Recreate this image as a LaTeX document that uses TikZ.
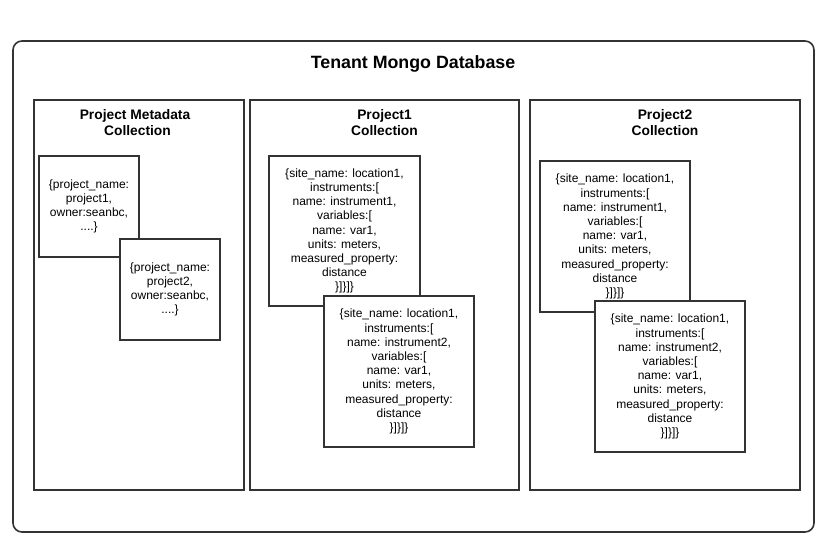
\documentclass[tikz,border=0pt]{standalone}
\usepackage{fontspec}
\setmainfont{Liberation Sans}
\begin{document}
\begin{tikzpicture}[x=1bp,y=-1bp,
  line/.style={draw=black!80,line width=1.6bp},
  outerbox/.style={line,rounded corners=9bp},
  coll/.style={line,fill=white},
  doc/.style={line,fill=white,inner sep=0pt,align=center,
    font=\fontsize{12bp}{14.2bp}\selectfont},
  ttl/.style={font=\bfseries\fontsize{13.8bp}{16bp}\selectfont,align=center,inner sep=0pt},
]
\useasboundingbox (0,0) rectangle (834,553);
\draw[outerbox] (13,41) rectangle (814,532);
\node[font=\bfseries\fontsize{17.8bp}{20bp}\selectfont,inner sep=0pt] (title) at (413,64) {Tenant Mongo Database};
% collections
\draw[coll] (34,100) rectangle (244,490);
\draw[coll] (250,100) rectangle (519,490);
\draw[coll] (530,100) rectangle (800,490);
\node[ttl] (tmeta) at (135,123) {Project Metadata\\\hspace*{5bp}Collection};
\node[ttl] (tp1) at (384.5,123) {Project1\\Collection};
\node[ttl] (tp2) at (665,123) {Project2\\Collection};
% metadata docs
\node[doc,minimum width=100bp,minimum height=101bp] (m1) at (89,206.5)
  {\{project\_name:\\project1,\\owner:seanbc,\\....\}};
\node[doc,minimum width=100bp,minimum height=101bp] (m2) at (170,289.5)
  {\{project\_name:\\project2,\\owner:seanbc,\\....\}};
% project1 docs
\node[doc,minimum width=151bp,minimum height=150bp] (p1a) at (344.5,231)
  {\{site\_name: location1,\\instruments:[\\name: instrument1,\\variables:[\\name: var1,\\units: meters,\\measured\_property:\\distance\\\}]\}]\}};
\node[doc,minimum width=150bp,minimum height=151bp] (p1b) at (399,371.5)
  {\{site\_name: location1,\\instruments:[\\name: instrument2,\\variables:[\\name: var1,\\units: meters,\\measured\_property:\\distance\\\}]\}]\}};
% project2 docs
\node[doc,minimum width=150bp,minimum height=151bp] (p2a) at (615,236.5)
  {\{site\_name: location1,\\instruments:[\\name: instrument1,\\variables:[\\name: var1,\\units: meters,\\measured\_property:\\distance\\\}]\}]\}};
\node[doc,minimum width=150bp,minimum height=151bp] (p2b) at (670,376.5)
  {\{site\_name: location1,\\instruments:[\\name: instrument2,\\variables:[\\name: var1,\\units: meters,\\measured\_property:\\distance\\\}]\}]\}};
\end{tikzpicture}
\end{document}
